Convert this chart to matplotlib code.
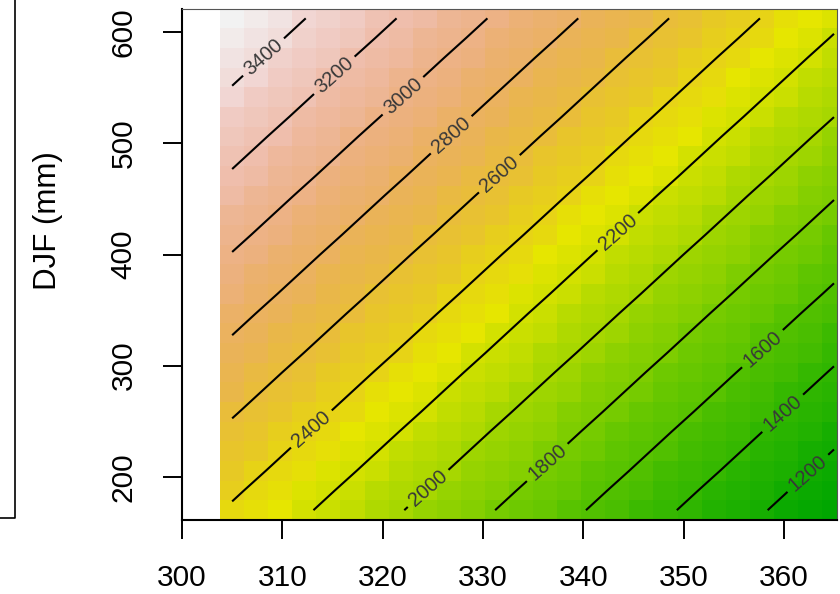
import colorsys
import numpy as np
import matplotlib
matplotlib.use("Agg")
import matplotlib.pyplot as plt
from matplotlib.colors import ListedColormap
from matplotlib.lines import Line2D

plt.rcParams['font.family'] = ['Liberation Sans', 'DejaVu Sans']

# grid cell centres
temp_centers = [305.0, 307.4, 309.8, 312.2, 314.6, 317.0, 319.4, 321.8, 324.2, 326.6,
                329.0, 331.4, 333.8, 336.2, 338.6, 341.0, 343.4, 345.8, 348.2, 350.6,
                353.0, 355.4, 357.8, 360.2, 362.6, 365.0]
djf_centers = [170.0, 187.7, 205.4, 223.1, 240.8, 258.5, 276.2, 293.9, 311.6, 329.3,
               347.0, 364.7, 382.4, 400.1, 417.8, 435.5, 453.2, 470.9, 488.6, 506.3,
               524.0, 541.7, 559.4, 577.1, 594.8, 612.5]
# surface value along the bottom row (DJF = 170) for each temperature column
bottom_row = [2379, 2326, 2273, 2220, 2167, 2114, 2061, 2008, 1955, 1902,
              1849, 1796, 1743, 1690, 1637, 1584, 1531, 1478, 1425, 1372,
              1319, 1266, 1213, 1160, 1107, 1054]
# increase of the surface going up each DJF row
djf_gain = [0, 47, 95, 142, 189, 237, 284, 331, 379, 426,
            473, 521, 568, 615, 663, 710, 757, 805, 852, 899,
            947, 994, 1041, 1088, 1136, 1183]

levels = [1200, 1400, 1600, 1800, 2000, 2200, 2400, 2600, 2800, 3000, 3200, 3400]
label_pos = [(362.5, 202), (359.9, 257), (357.9, 315), (336.5, 212), (324.5, 190),
             (343.5, 420), (312.9, 243), (331.7, 472), (326.9, 507), (322.1, 542),
             (315.3, 560), (308.1, 578)]


def terrain_colors(n):
    # same recipe as R's terrain.colors()
    k = n // 2
    h = [4 / 12, 2 / 12, 0.0]
    s = [1.0, 1.0, 0.0]
    v = [0.65, 0.9, 0.95]
    cols = []
    for i in range(k):
        t = i / (k - 1)
        cols.append(colorsys.hsv_to_rgb(h[0] + (h[1] - h[0]) * t,
                                        s[0] + (s[1] - s[0]) * t,
                                        v[0] + (v[1] - v[0]) * t))
    m = n - k + 1
    for i in range(1, m):
        t = i / (m - 1)
        cols.append(colorsys.hsv_to_rgb(h[1] + (h[2] - h[1]) * t,
                                        s[1] + (s[2] - s[1]) * t,
                                        v[1] + (v[2] - v[1]) * t))
    return ListedColormap(cols)


xc = np.array(temp_centers)
yc = np.array(djf_centers)
z = np.array(djf_gain)[:, None] + np.array(bottom_row)[None, :]

xe = np.concatenate([[xc[0] - 1.2], (xc[:-1] + xc[1:]) / 2, [xc[-1] + 1.2]])
ye = np.concatenate([[yc[0] - 8.85], (yc[:-1] + yc[1:]) / 2, [yc[-1] + 8.85]])

fig = plt.figure(figsize=(8.4, 5.94), dpi=100)
ax = fig.add_axes([182 / 840, 74 / 594, 655 / 840, 511.5 / 594])

ax.pcolormesh(xe, ye, z, cmap=terrain_colors(64), shading='flat')
cs = ax.contour(xc, yc, z, levels=levels, colors='black', linewidths=1.5)
lbls = ax.clabel(cs, fmt='%d', fontsize=14.5, inline=True, inline_spacing=6,
                 manual=label_pos, colors='#383838')

ax.set_xlim(300, 365.3)
ax.set_ylim(ye[0], ye[-1])
ax.set_xticks([300, 310, 320, 330, 340, 350, 360])
ax.set_yticks([200, 300, 400, 500, 600])
ax.tick_params(length=14, width=1.4, labelsize=21.5, pad=18)
for lab in ax.get_yticklabels():
    lab.set_rotation(90)
    lab.set_va('center')
fig.text(48 / 840, 1 - 221 / 594, 'DJF (mm)', fontsize=22.5, rotation=90,
         ha='center', va='center')
for side in ['left', 'bottom']:
    ax.spines[side].set_linewidth(1.5)
for side in ['top', 'right']:
    ax.spines[side].set_linewidth(0.8)
    ax.spines[side].set_color('#555555')

# edge of the neighbouring panel on the left
fig.add_artist(Line2D([15 / 840, 15 / 840, 0], [1, 76 / 594, 76 / 594],
                      transform=fig.transFigure, color='black', lw=1.2))

fig.savefig('out.png', dpi=100)
